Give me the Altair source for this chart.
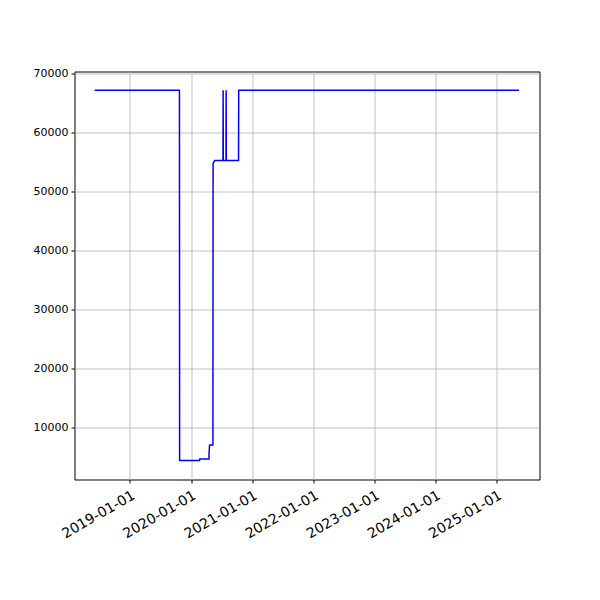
import altair as alt
import pandas as pd

dates = [
    "2018-06-04", "2019-10-24", "2019-10-25", "2020-02-21", "2020-02-22",
    "2020-04-17", "2020-04-18", "2020-04-21", "2020-05-11", "2020-05-12",
    "2020-05-22", "2020-07-10", "2020-07-11", "2020-07-12", "2020-07-28",
    "2020-07-29", "2020-07-30", "2020-10-11", "2020-10-12", "2025-05-14",
]
values = [
    67200, 67200, 4450, 4450, 4700,
    4700, 5800, 7100, 7100, 54800,
    55300, 55300, 67200, 55300, 55300,
    67200, 55300, 55300, 67200, 67200,
]
tick_years = [2019, 2020, 2021, 2022, 2023, 2024, 2025]
y_ticks = [10000, 20000, 30000, 40000, 50000, 60000, 70000]

df = pd.DataFrame({"date": dates, "value": values, "idx": list(range(len(dates)))})

FONT = "DejaVu Sans"

x_axis = alt.Axis(
    values=[alt.DateTime(year=y, month=1, date=1, utc=True) for y in tick_years],
    format="%Y-%m-%d",
    labelAngle=-30,
    labelAlign="right",
    labelBaseline="top",
    labelFont=FONT,
    labelFontSize=14,
    labelColor="black",
    labelPadding=5,
    tickSize=3.5,
    tickColor="black",
    domain=False,
    grid=True,
    gridColor="#b0b0b0",
    gridWidth=0.8,
    title=None,
    labelOverlap=False,
    labelFlush=False,
)
y_axis = alt.Axis(
    values=y_ticks,
    format="d",
    labelFont=FONT,
    labelFontSize=11,
    labelColor="black",
    labelPadding=3,
    tickSize=3.5,
    tickColor="black",
    domain=False,
    grid=True,
    gridColor="#b0b0b0",
    gridWidth=0.8,
    title=None,
    labelOverlap=False,
    labelFlush=False,
)

chart = (
    alt.Chart(df)
    .mark_line(color="#0000ff", strokeWidth=1.5, clip=True)
    .encode(
        x=alt.X(
            "date:T",
            axis=x_axis,
            scale=alt.Scale(
                type="utc",
                domain=[
                    alt.DateTime(year=2018, month=2, date=4, utc=True),
                    alt.DateTime(year=2025, month=9, date=13, utc=True),
                ],
                nice=False,
            ),
        ),
        y=alt.Y(
            "value:Q",
            axis=y_axis,
            scale=alt.Scale(domain=[1237, 70390], nice=False, zero=False),
        ),
        order="idx:Q",
    )
    .properties(
        width=465,
        height=408,
        autosize=alt.AutoSizeParams(type="none"),
        padding={"left": 66.5, "top": 63.5, "right": 52, "bottom": 112},
        background="white",
    )
    .configure_view(stroke="black", strokeWidth=1)
)

chart.save("out.html", embed_options={"renderer": "svg", "actions": False})
